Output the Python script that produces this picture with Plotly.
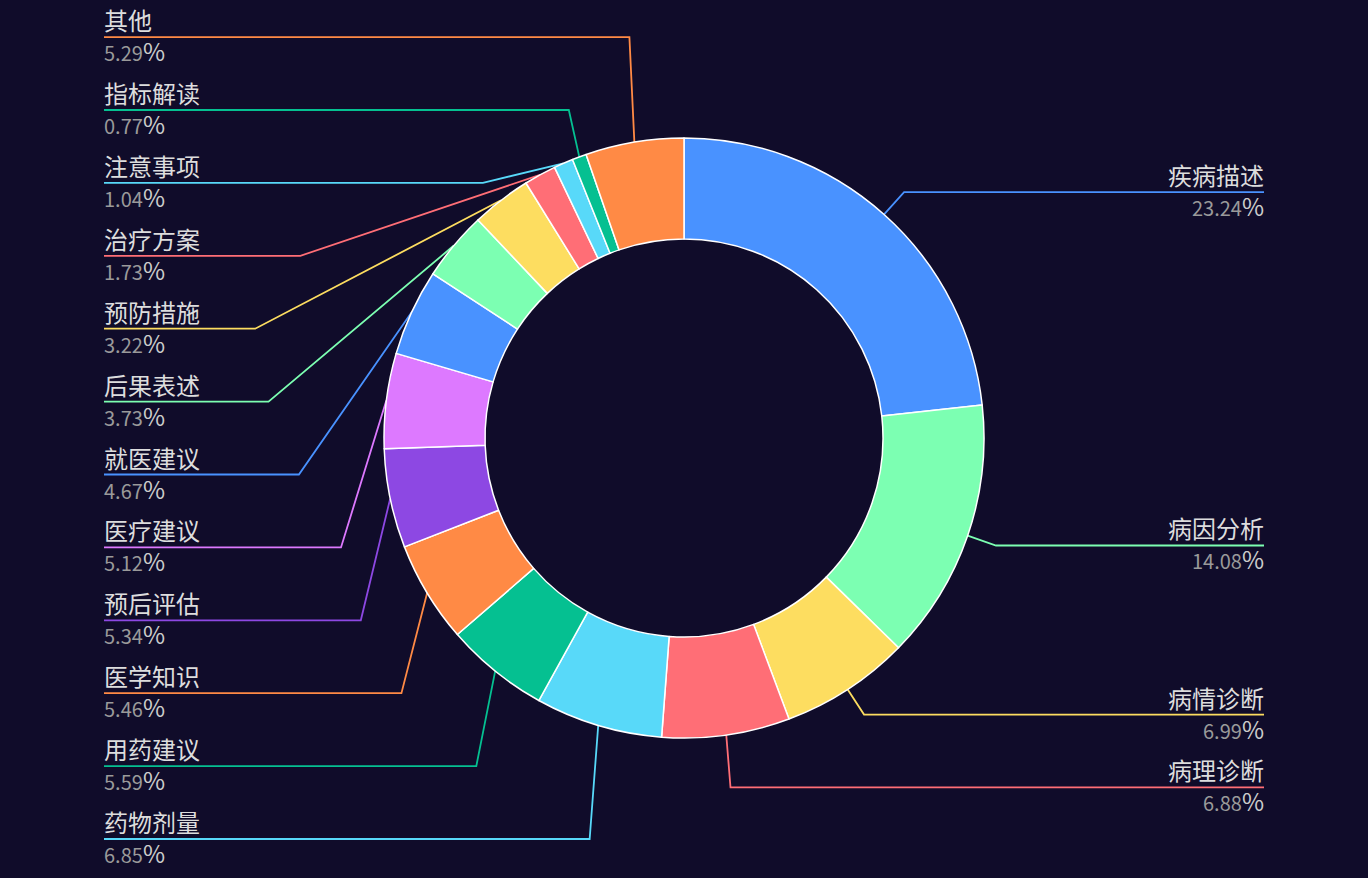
import math
import plotly.graph_objects as go

# ---------------- data ----------------
names = ["疾病描述", "病因分析", "病情诊断", "病理诊断", "药物剂量", "用药建议",
         "医学知识", "预后评估", "医疗建议", "就医建议", "后果表述", "预防措施",
         "治疗方案", "注意事项", "指标解读", "其他"]
values = [23.24, 14.08, 6.99, 6.88, 6.85, 5.59, 5.46, 5.34, 5.12, 4.67, 3.73,
          3.22, 1.73, 1.04, 0.77, 5.29]
palette = ["#4992ff", "#7cffb2", "#fddd60", "#ff6e76", "#58d9f9", "#05c091",
           "#ff8a45", "#8d48e3", "#dd79ff"]
colors = [palette[i % len(palette)] for i in range(len(names))]

# ---------------- layout params ----------------
W, H = 1368, 878
CX, CY = 684, 438
R_OUT, R_IN = 300, 199
LEN1 = 30
MAX_SURFACE_ANGLE = 80
LABEL_GAP = 72.9
Y_MIN, Y_MAX = 37, 839
LEFT_EDGE, RIGHT_EDGE = 104, 1264
BG = "#100c2a"
FONT = "Noto Sans CJK SC"

total = sum(values)
items = []
cum = 0.0
for n, v, c in zip(names, values, colors):
    mid = (cum + v / 2) / total * 2 * math.pi
    cum += v
    nx, ny = math.sin(mid), -math.cos(mid)
    p0 = (CX + R_OUT * nx, CY + R_OUT * ny)
    p1 = (CX + (R_OUT + LEN1) * nx, CY + (R_OUT + LEN1) * ny)
    items.append(dict(name=n, value=v, color=c, n=(nx, ny), p0=p0, p1=p1,
                      side=-1 if nx < 0 else 1, y=p1[1]))


def layout_side(lst):
    lst.sort(key=lambda it: it["y"])
    for i in range(len(lst)):
        if i == 0:
            lst[i]["y"] = max(lst[i]["y"], Y_MIN)
        else:
            lst[i]["y"] = max(lst[i]["y"], lst[i - 1]["y"] + LABEL_GAP)
    if lst and lst[-1]["y"] > Y_MAX:
        lst[-1]["y"] = Y_MAX
        for i in range(len(lst) - 2, -1, -1):
            lst[i]["y"] = min(lst[i]["y"], lst[i + 1]["y"] - LABEL_GAP)


layout_side([it for it in items if it["side"] < 0])
layout_side([it for it in items if it["side"] > 0])

cos_max = math.cos(math.radians(MAX_SURFACE_ANGLE))


def cos_angle(p0, pt, n):
    dx, dy = pt[0] - p0[0], pt[1] - p0[1]
    L = math.hypot(dx, dy)
    if L < 1e-6:
        return 1.0
    return (dx * n[0] + dy * n[1]) / L


fig = go.Figure()

annotations = []
for it in items:
    Y = it["y"]
    edge = LEFT_EDGE if it["side"] < 0 else RIGHT_EDGE
    pt1 = [it["p1"][0], Y]
    pt2 = [edge, Y]
    if cos_angle(it["p0"], pt1, it["n"]) < cos_max:
        a, b = pt1[0], pt2[0]
        if cos_angle(it["p0"], (b, Y), it["n"]) < cos_max:
            pt1[0] = b
        else:
            for _ in range(60):
                m = (a + b) / 2
                if cos_angle(it["p0"], (m, Y), it["n"]) < cos_max:
                    a = m
                else:
                    b = m
            pt1[0] = (a + b) / 2
    fig.add_trace(go.Scatter(
        x=[it["p0"][0], pt1[0], pt2[0]], y=[it["p0"][1], Y, Y],
        mode="lines", line=dict(color=it["color"], width=1.8),
        hoverinfo="skip", showlegend=False))
    anchor = "left" if it["side"] < 0 else "right"
    xs = -1 if it["side"] < 0 else 1
    annotations.append(dict(
        x=edge, y=Y, xref="x", yref="y", xanchor=anchor, yanchor="bottom",
        text=it["name"], showarrow=False, yshift=-1, xshift=xs, borderpad=0,
        font=dict(family=FONT, size=24, color="#dddddd")))
    annotations.append(dict(
        x=edge, y=Y, xref="x", yref="y", xanchor=anchor, yanchor="top",
        text="%.2f<span style='font-size:24px;fill:#cccccc'>%%</span>" % it["value"],
        showarrow=False, yshift=5, xshift=xs, borderpad=0,
        font=dict(family=FONT, size=20, color="#9a9a9a")))

fig.add_trace(go.Pie(
    labels=names, values=values, sort=False, direction="clockwise", rotation=0,
    hole=R_IN / R_OUT, textinfo="none", hoverinfo="label+percent",
    marker=dict(colors=colors, line=dict(color="#ffffff", width=1.5)),
    domain=dict(x=[(CX - R_OUT) / W, (CX + R_OUT) / W],
                y=[(H - CY - R_OUT) / H, (H - CY + R_OUT) / H]),
    showlegend=False))

fig.update_layout(
    width=W, height=H, margin=dict(l=0, r=0, t=0, b=0),
    paper_bgcolor=BG, plot_bgcolor=BG, showlegend=False,
    xaxis=dict(range=[0, W], visible=False, fixedrange=True),
    yaxis=dict(range=[H, 0], visible=False, fixedrange=True),
    annotations=annotations)

fig.write_html("out.html", config={"displayModeBar": False})
